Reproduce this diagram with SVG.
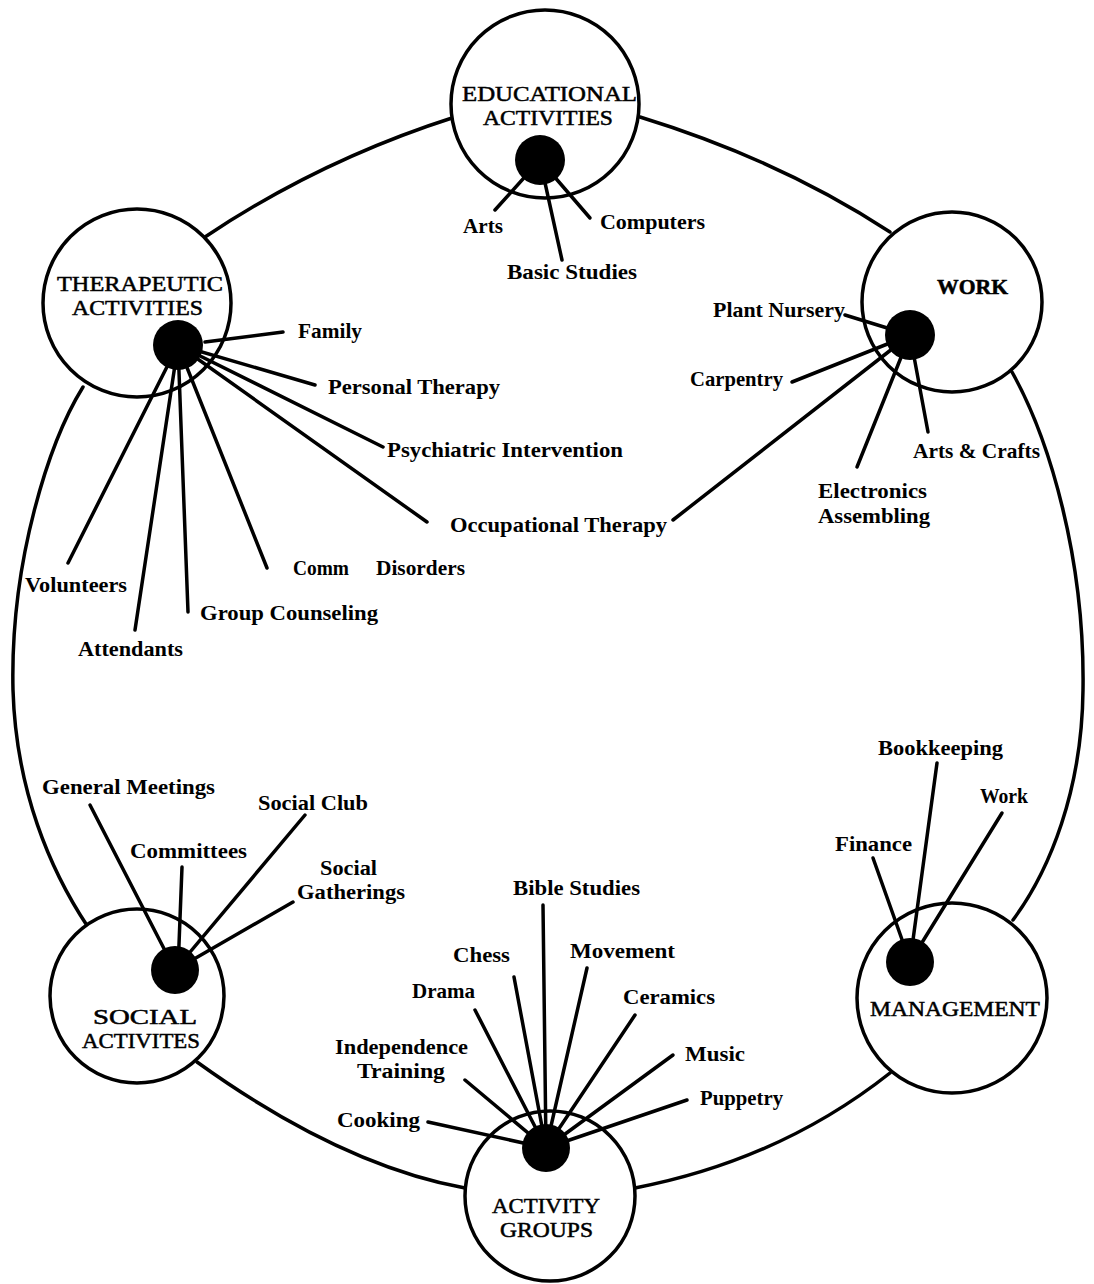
<svg xmlns="http://www.w3.org/2000/svg" width="1094" height="1284" viewBox="0 0 1094 1284">
<style>
.ring{fill:none;stroke:#000;stroke-width:3.5;stroke-linecap:round}
.hub{fill:#fff;stroke:#000;stroke-width:3.5}
.dot{fill:#000}
.spoke{stroke:#000;stroke-width:3.5;stroke-linecap:round;fill:none}
.lbl{font-family:"Liberation Serif","Times New Roman",serif;font-weight:bold;font-size:22px;fill:#000}
.lbl2{font-size:20px}
.ttl{font-family:"Liberation Serif","Times New Roman",serif;font-size:21px;fill:#000;stroke:#000;stroke-width:0.5}
</style>
<rect width="1094" height="1284" fill="#fff"/>
<g id="ring">
<path class="ring" d="M455,117 Q320,160 205,237"/>
<path class="ring" d="M640,117 Q780,160 890,232"/>
<path class="ring" d="M83,387 C50,440 10,560 13,690 C16,790 50,870 88,927"/>
<path class="ring" d="M1012,372 C1050,440 1085,560 1083,690 C1082,790 1050,870 1013,920"/>
<path class="ring" d="M197,1062 Q340,1165 465,1188"/>
<path class="ring" d="M635,1188 Q780,1160 890,1073"/>
</g>
<g id="hub-circles">
<circle id="edu-circle" class="hub" cx="545" cy="104" r="94"/>
<circle id="ther-circle" class="hub" cx="137" cy="303" r="94"/>
<circle id="work-circle" class="hub" cx="952" cy="302" r="90"/>
<circle id="soc-circle" class="hub" cx="137" cy="996" r="87"/>
<circle id="act-circle" class="hub" cx="550" cy="1196" r="85"/>
<circle id="mgmt-circle" class="hub" cx="952" cy="998" r="95"/>
</g>
<g id="connectors">
<!-- educational -->
<line class="spoke" x1="540" y1="160" x2="495" y2="210"/>
<line class="spoke" x1="540" y1="160" x2="562" y2="260"/>
<line class="spoke" x1="540" y1="160" x2="590" y2="218"/>
<!-- therapeutic -->
<line class="spoke" x1="205" y1="342" x2="283" y2="332"/>
<line class="spoke" x1="178" y1="345" x2="315" y2="385"/>
<line class="spoke" x1="178" y1="345" x2="383" y2="447"/>
<line class="spoke" x1="178" y1="345" x2="427" y2="522"/>
<line class="spoke" x1="178" y1="345" x2="267" y2="568"/>
<line class="spoke" x1="178" y1="345" x2="188" y2="612"/>
<line class="spoke" x1="178" y1="345" x2="135" y2="630"/>
<line class="spoke" x1="178" y1="345" x2="68" y2="563"/>
<!-- work -->
<line class="spoke" x1="845" y1="315" x2="910" y2="335"/>
<line class="spoke" x1="792" y1="382" x2="910" y2="335"/>
<line class="spoke" x1="673" y1="520" x2="910" y2="335"/>
<line class="spoke" x1="857" y1="467" x2="910" y2="335"/>
<line class="spoke" x1="928" y1="432" x2="910" y2="335"/>
<!-- social -->
<line class="spoke" x1="90" y1="805" x2="175" y2="970"/>
<line class="spoke" x1="182" y1="867" x2="178" y2="970"/>
<line class="spoke" x1="305" y1="815" x2="175" y2="970"/>
<line class="spoke" x1="293" y1="902" x2="175" y2="970"/>
<!-- activity groups -->
<line class="spoke" x1="543" y1="905" x2="546" y2="1148"/>
<line class="spoke" x1="514" y1="977" x2="546" y2="1148"/>
<line class="spoke" x1="587" y1="968" x2="546" y2="1148"/>
<line class="spoke" x1="475" y1="1010" x2="546" y2="1148"/>
<line class="spoke" x1="635" y1="1015" x2="546" y2="1148"/>
<line class="spoke" x1="465" y1="1080" x2="546" y2="1148"/>
<line class="spoke" x1="673" y1="1055" x2="546" y2="1148"/>
<line class="spoke" x1="687" y1="1100" x2="546" y2="1148"/>
<line class="spoke" x1="428" y1="1122" x2="546" y2="1148"/>
<!-- management -->
<line class="spoke" x1="937" y1="763" x2="910" y2="962"/>
<line class="spoke" x1="1002" y1="813" x2="910" y2="962"/>
<line class="spoke" x1="873" y1="858" x2="910" y2="962"/>
</g>
<g id="educational">
<circle class="dot" cx="540" cy="160" r="25"/>
<text class="ttl" x="462" y="101" textLength="175" lengthAdjust="spacingAndGlyphs">EDUCATIONAL</text>
<text class="ttl" x="483" y="125" textLength="130" lengthAdjust="spacingAndGlyphs">ACTIVITIES</text>
<text class="lbl" x="463" y="233" textLength="40" lengthAdjust="spacingAndGlyphs">Arts</text>
<text class="lbl" x="600" y="229" textLength="105" lengthAdjust="spacingAndGlyphs">Computers</text>
<text class="lbl" x="507" y="279" textLength="130" lengthAdjust="spacingAndGlyphs">Basic Studies</text>
</g>
<g id="therapeutic">
<circle class="dot" cx="178" cy="345" r="25"/>
<text class="ttl" x="57" y="291" textLength="166" lengthAdjust="spacingAndGlyphs">THERAPEUTIC</text>
<text class="ttl" x="72" y="315" textLength="131" lengthAdjust="spacingAndGlyphs">ACTIVITIES</text>
<text class="lbl" x="298" y="338" textLength="64" lengthAdjust="spacingAndGlyphs">Family</text>
<text class="lbl" x="328" y="394" textLength="172" lengthAdjust="spacingAndGlyphs">Personal Therapy</text>
<text class="lbl" x="387" y="457" textLength="236" lengthAdjust="spacingAndGlyphs">Psychiatric Intervention</text>
<text class="lbl" x="450" y="532" textLength="217" lengthAdjust="spacingAndGlyphs">Occupational Therapy</text>
<text class="lbl" y="575"><tspan x="293" textLength="56" lengthAdjust="spacingAndGlyphs">Comm</tspan><tspan x="376" textLength="89" lengthAdjust="spacingAndGlyphs">Disorders</tspan></text>
<text class="lbl" x="200" y="620" textLength="178" lengthAdjust="spacingAndGlyphs">Group Counseling</text>
<text class="lbl" x="78" y="656" textLength="105" lengthAdjust="spacingAndGlyphs">Attendants</text>
<text class="lbl" x="25" y="592" textLength="102" lengthAdjust="spacingAndGlyphs">Volunteers</text>
</g>
<g id="work">
<circle class="dot" cx="910" cy="335" r="25"/>
<text class="ttl" font-weight="bold" x="937" y="294" textLength="71" lengthAdjust="spacingAndGlyphs">WORK</text>
<text class="lbl" x="713" y="317" textLength="132" lengthAdjust="spacingAndGlyphs">Plant Nursery</text>
<text class="lbl" x="690" y="386" textLength="93" lengthAdjust="spacingAndGlyphs">Carpentry</text>
<text class="lbl lbl2" x="818" y="498" textLength="109" lengthAdjust="spacingAndGlyphs">Electronics</text>
<text class="lbl lbl2" x="818" y="523" textLength="112" lengthAdjust="spacingAndGlyphs">Assembling</text>
<text class="lbl" x="913" y="458" textLength="127" lengthAdjust="spacingAndGlyphs">Arts &amp; Crafts</text>
</g>
<g id="social">
<circle class="dot" cx="175" cy="970" r="24"/>
<text class="ttl" x="93" y="1024" textLength="104" lengthAdjust="spacingAndGlyphs">SOCIAL</text>
<text class="ttl" x="82" y="1048" textLength="118" lengthAdjust="spacingAndGlyphs">ACTIVITES</text>
<text class="lbl" x="42" y="794" textLength="173" lengthAdjust="spacingAndGlyphs">General Meetings</text>
<text class="lbl" x="130" y="858" textLength="117" lengthAdjust="spacingAndGlyphs">Committees</text>
<text class="lbl" x="258" y="810" textLength="110" lengthAdjust="spacingAndGlyphs">Social Club</text>
<text class="lbl lbl2" x="320" y="875" textLength="57" lengthAdjust="spacingAndGlyphs">Social</text>
<text class="lbl lbl2" x="297" y="899" textLength="108" lengthAdjust="spacingAndGlyphs">Gatherings</text>
</g>
<g id="activity-groups">
<circle class="dot" cx="546" cy="1148" r="24"/>
<text class="ttl" x="492" y="1213" textLength="108" lengthAdjust="spacingAndGlyphs">ACTIVITY</text>
<text class="ttl" x="500" y="1237" textLength="93" lengthAdjust="spacingAndGlyphs">GROUPS</text>
<text class="lbl" x="513" y="895" textLength="127" lengthAdjust="spacingAndGlyphs">Bible Studies</text>
<text class="lbl" x="453" y="962" textLength="57" lengthAdjust="spacingAndGlyphs">Chess</text>
<text class="lbl" x="570" y="958" textLength="105" lengthAdjust="spacingAndGlyphs">Movement</text>
<text class="lbl" x="412" y="998" textLength="63" lengthAdjust="spacingAndGlyphs">Drama</text>
<text class="lbl" x="623" y="1004" textLength="92" lengthAdjust="spacingAndGlyphs">Ceramics</text>
<text class="lbl lbl2" x="335" y="1054" textLength="133" lengthAdjust="spacingAndGlyphs">Independence</text>
<text class="lbl lbl2" x="357" y="1078" textLength="88" lengthAdjust="spacingAndGlyphs">Training</text>
<text class="lbl" x="685" y="1061" textLength="60" lengthAdjust="spacingAndGlyphs">Music</text>
<text class="lbl" x="700" y="1105" textLength="83" lengthAdjust="spacingAndGlyphs">Puppetry</text>
<text class="lbl" x="337" y="1127" textLength="83" lengthAdjust="spacingAndGlyphs">Cooking</text>
</g>
<g id="management">
<circle class="dot" cx="910" cy="962" r="24"/>
<text class="ttl" x="870" y="1016" textLength="170" lengthAdjust="spacingAndGlyphs">MANAGEMENT</text>
<text class="lbl" x="878" y="755" textLength="125" lengthAdjust="spacingAndGlyphs">Bookkeeping</text>
<text class="lbl" x="980" y="803" textLength="48" lengthAdjust="spacingAndGlyphs">Work</text>
<text class="lbl" x="835" y="851" textLength="77" lengthAdjust="spacingAndGlyphs">Finance</text>
</g>
</svg>
